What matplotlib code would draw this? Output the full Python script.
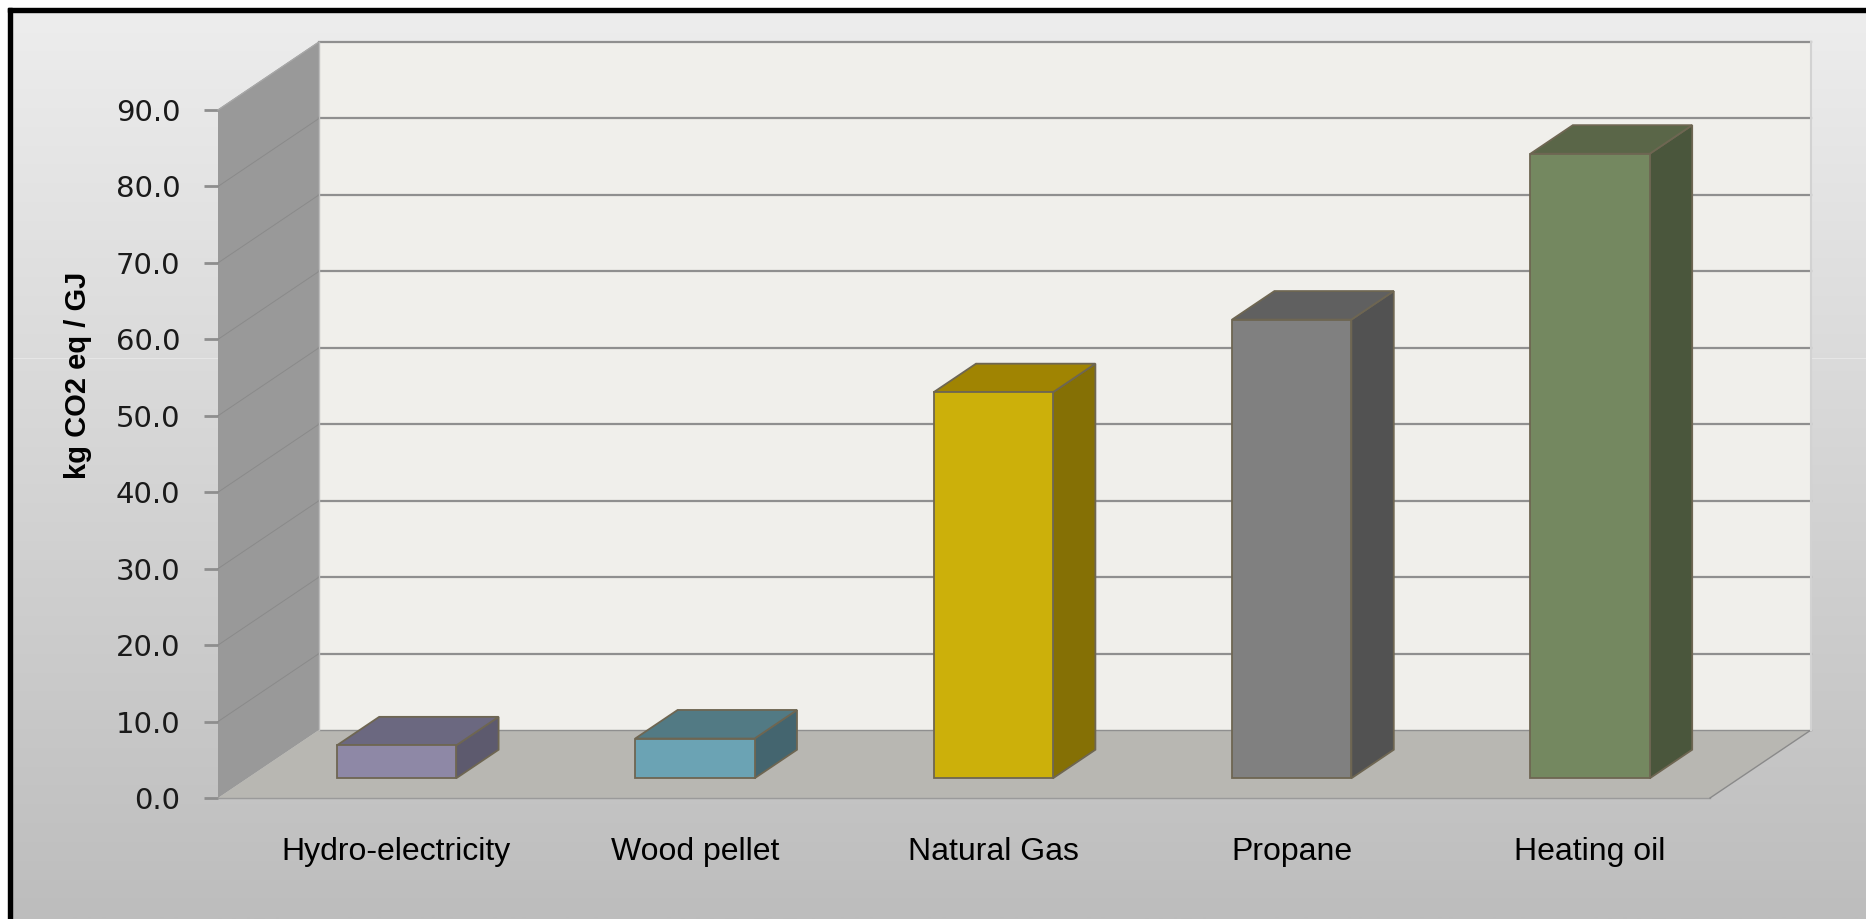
import numpy as np
import matplotlib
matplotlib.use("Agg")
import matplotlib.pyplot as plt
from matplotlib.patches import Polygon, Rectangle
from matplotlib.lines import Line2D
from matplotlib.transforms import IdentityTransform

# ---------------- data ----------------
categories = ["Hydro-electricity", "Wood pellet", "Natural Gas", "Propane", "Heating oil"]
values = [4.3, 5.2, 50.5, 60.0, 81.7]
front_colors = ["#8e88a6", "#6ba3b4", "#ccb00a", "#808080", "#748860"]
top_colors = ["#6b6880", "#527a84", "#a08402", "#606060", "#5a6648"]
side_colors = ["#5d5a6e", "#44656f", "#857005", "#525252", "#4a563c"]
y_ticks = list(range(0, 91, 10))
y_label = "kg CO2 eq / GJ"

# ---------------- layout ----------------
W, H = 1866, 919
DX, DY = 101, 68            # depth offset of the 3D box (pixels)
Z0, Z1 = 0.29, 0.71         # bar depth range
BAR_W = 0.4                 # bar width (fraction of category slot)

fig = plt.figure(figsize=(W / 100, H / 100), dpi=100)
fig.patch.set_facecolor("white")

# background gradient + frame
bg = fig.add_axes([0, 0, 1, 1])
bg.set_xlim(0, W)
bg.set_ylim(H, 0)
bg.axis("off")
g = np.linspace(0, 1, 256)[:, None, None]
c_top = np.array([237, 237, 237]) / 255
c_bot = np.array([189, 189, 189]) / 255
img = c_top + (c_bot - c_top) * g
img = np.repeat(img, 2, axis=1)
bg.imshow(img, extent=(12, W, H, 12), aspect="auto", interpolation="bilinear", zorder=0)
bg.add_patch(Rectangle((8, 8), W, 4, color="black", zorder=2))
bg.add_patch(Rectangle((8, 8), 4, H, color="black", zorder=2))
bg.plot([12, W], [358, 358], color="white", alpha=0.35, lw=0.8, zorder=1)
bg.set_xlim(0, W)
bg.set_ylim(H, 0)

# main axes = front plane of the 3D box
ax = fig.add_axes([218 / W, (H - 798) / H, (1710 - 218) / W, (798 - 110) / H])
ax.set_xlim(0, len(categories))
ax.set_ylim(0, max(y_ticks))
ax.patch.set_visible(False)
for s in ax.spines.values():
    s.set_visible(False)
ax.set_xticks([])
ax.set_yticks(y_ticks)
ax.set_yticklabels([f"{t:.1f}" for t in y_ticks], family="DejaVu Sans", color="#1a1a1a")
ax.tick_params(axis="y", length=10, width=2, color="#8e8e8e", pad=17, labelsize=21)

n = len(categories)
vmax = max(y_ticks)
ident = IdentityTransform()


def P(x, v, z):
    d = ax.transData.transform((x, v))
    return (d[0] + z * DX, d[1] + z * DY)


def poly(pts, fc, ec="none", lw=0.0, zo=1):
    ax.add_patch(Polygon(pts, closed=True, facecolor=fc, edgecolor=ec, linewidth=lw,
                         transform=ident, clip_on=False, zorder=zo, joinstyle="miter"))


def line(a, b, color, lw, zo=2):
    ax.add_line(Line2D([a[0], b[0]], [a[1], b[1]], color=color, linewidth=lw,
                       transform=ident, clip_on=False, zorder=zo))


# walls and floor
poly([P(0, 0, 1), P(n, 0, 1), P(n, vmax, 1), P(0, vmax, 1)], "#f0efeb", zo=1)
poly([P(0, 0, 0), P(0, vmax, 0), P(0, vmax, 1), P(0, 0, 1)], "#999999", zo=1)
poly([P(0, 0, 0), P(n, 0, 0), P(n, 0, 1), P(0, 0, 1)], "#b8b7b2", zo=1)

# gridlines
for v in y_ticks[1:]:
    line(P(0, v, 1), P(n, v, 1), "#8f8f8f", 1.6)
    line(P(0, v, 0), P(0, v, 1), "#8a8a8a", 0.7)
line(P(0, 0, 1), P(n, 0, 1), "#8f8f8f", 1.0)
line(P(0, 0, 0), P(n, 0, 0), "#9a9a9a", 1.0)
line(P(n, 0, 0), P(n, 0, 1), "#8a8a8a", 1.0)
line(P(n, 0, 1), P(n, vmax, 1), "#d2d2d2", 1.5)
line(P(0, 0, 1), P(0, vmax, 1), "#bdbdbd", 1.0)
line(P(0, vmax, 0), P(0, vmax, 1), "#a8a8a8", 1.0)

# bars
edge = "#6e6652"
for i, v in enumerate(values):
    x0 = i + 0.5 - BAR_W / 2
    x1 = i + 0.5 + BAR_W / 2
    poly([P(x1, 0, Z0), P(x1, 0, Z1), P(x1, v, Z1), P(x1, v, Z0)], side_colors[i], edge, 1.3, zo=3)
    poly([P(x0, v, Z0), P(x1, v, Z0), P(x1, v, Z1), P(x0, v, Z1)], top_colors[i], edge, 1.3, zo=3)
    poly([P(x0, 0, Z0), P(x1, 0, Z0), P(x1, v, Z0), P(x0, v, Z0)], front_colors[i], edge, 1.3, zo=4)

# category labels
for i, c in enumerate(categories):
    px, _ = P(i + 0.5, 0, Z0)
    _, py = P(i + 0.5, 0, 0)
    ax.text(px, py - 54, c, transform=ident, ha="center", va="center",
            fontsize=23, family="Liberation Sans", color="black", clip_on=False)

# y axis title
fig.text(78 / W, 1 - 375 / H, y_label, rotation=90, ha="center", va="center",
         fontsize=21, fontweight="bold", family="Liberation Sans", color="black")

fig.savefig("out.png", dpi=100)
